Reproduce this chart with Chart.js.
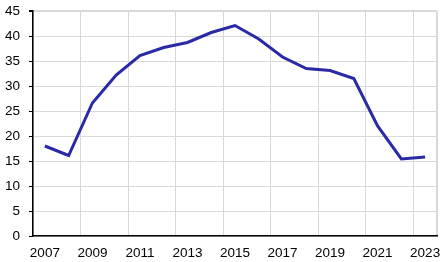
<!DOCTYPE html>
<html>
<head>
<meta charset="utf-8">
<script src="https://cdn.jsdelivr.net/npm/chart.js@4/dist/chart.umd.min.js"></script>
<style>
  html, body { margin: 0; padding: 0; background: #fff; }
  #wrap { width: 443px; height: 262px; }
</style>
</head>
<body>
<div id="wrap"><canvas id="chart" width="443" height="262"></canvas></div>
<script>
// values
const years = ['2007', '2008', '2009', '2010', '2011', '2012', '2013', '2014', '2015',
  '2016', '2017', '2018', '2019', '2020', '2021', '2022', '2023'];
const share = [18.0, 16.1, 26.6, 32.2, 36.1, 37.7, 38.7, 40.7, 42.1,
  39.4, 35.8, 33.5, 33.1, 31.5, 22.0, 15.4, 15.8];
const yTicks = [0, 5, 10, 15, 20, 25, 30, 35, 40, 45];

const GRID = '#d9d9d9';
const FONT = { family: 'Arial, "Liberation Sans", sans-serif', size: 13.5 };

const ctx = document.getElementById('chart').getContext('2d');
new Chart(ctx, {
  type: 'line',
  data: {
    labels: years,
    datasets: [{
      data: share,
      borderColor: '#2a2aa6',
      borderWidth: 3,
      pointRadius: 0,
      tension: 0,
      fill: false
    }]
  },
  options: {
    responsive: false,
    animation: false,
    layout: { padding: { top: 11, right: 6, left: 0, bottom: 0 } },
    plugins: { legend: { display: false }, tooltip: { enabled: false } },
    scales: {
      x: {
        offset: true,
        border: { color: '#000', width: 1.5 },
        grid: {
          offset: true,
          drawTicks: false,
          // every other category gets a line; the closing line is the right border
          color: c => c.index === undefined ? GRID : (c.index % 2 === 0 ? GRID : 'transparent'),
          lineWidth: c => c.index === undefined ? 2 : 1
        },
        ticks: {
          autoSkip: false,
          maxRotation: 0,
          color: '#000',
          font: FONT,
          padding: 9,
          callback: (v, i) => i % 2 === 0 ? years[i] : ''
        },
        afterFit: s => { s.height = 26; s.paddingLeft = 0; s.paddingRight = 0; }
      },
      y: {
        min: 0,
        max: 45,
        border: { color: '#000', width: 1.5 },
        grid: {
          color: c => GRID,
          lineWidth: c => c.tick && c.tick.value === 45 ? 2 : 1,
          tickColor: '#000',
          tickLength: 4
        },
        afterBuildTicks: s => { s.ticks = yTicks.map(v => ({ value: v })); },
        ticks: { color: '#000', font: FONT, padding: 9 },
        afterFit: s => { s.width = 33; s.paddingTop = 0; s.paddingBottom = 0; }
      }
    }
  }
});
</script>
</body>
</html>
